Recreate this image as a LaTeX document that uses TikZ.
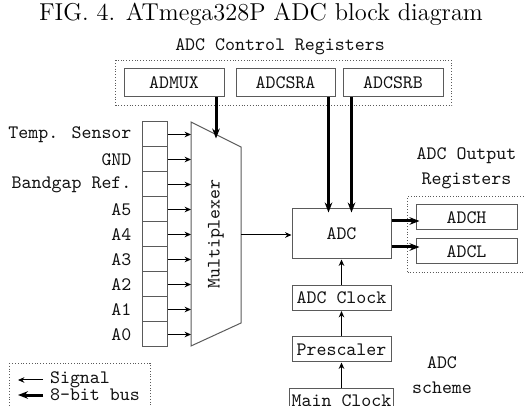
\documentclass[tikz,border=0pt]{standalone}
\usepackage{xcolor}
\usepackage{tikz}
\usetikzlibrary{arrows.meta, positioning, fit, calc}
\definecolor{boxline}{HTML}{5A5A5A}
\definecolor{textmain}{HTML}{111111}
\definecolor{arrowline}{HTML}{000000}

\begin{document}
\begin{tikzpicture}[
    x=0.5pt, y=-0.5pt,
    node distance=12.75pt,
    regbox/.style={rectangle, draw=boxline, line width=0.5pt, text=textmain, align=center, minimum height=14pt, minimum width=50pt, inner sep=1pt, font=\fontsize{9.5}{12.5}\selectfont\ttfamily},
    clkbox/.style={regbox, minimum height=12.5pt, minimum width=49.5pt},
    cell/.style={rectangle, draw=boxline, line width=0.5pt, minimum width=12.5pt, minimum height=12.5pt, inner sep=0pt},
    lbl/.style={text=textmain, align=center, font=\fontsize{9.5}{12.5}\selectfont\ttfamily},
    groupbox/.style={draw=boxline, densely dotted, inner sep=4pt},
    arrow/.style={->, >={Stealth[length=3.2pt, width=2.8pt]}, line width=0.5pt, draw=arrowline},
    busarrow/.style={->, >={Stealth[length=5pt, width=3.8pt]}, line width=1.5pt, draw=arrowline, shorten >=-2pt}
]
    \useasboundingbox (0,0) rectangle (525,406);

    % Nodes
    \node[font=\fontsize{12.2}{14}\selectfont, text=black] (title) at (261,14) {FIG. 4. ATmega328P ADC block diagram};
    \node[lbl] (ctrltitle) at (280,47) {ADC Control Registers};
    \node[regbox] (admux) at (174,83) {ADMUX};
    \node[regbox, minimum width=49.5pt] (adcsra) at (285.5,83) {ADCSRA};
    \node[regbox] (adcsrb) at (393,83) {ADCSRB};
    \node[groupbox, fit=(admux)(adcsrb)] (ctrlgroup) {};

    % Multiplexer
    \coordinate (mux-nw) at (191,122);
    \coordinate (mux-ne) at (241,147);
    \coordinate (mux-se) at (241,323);
    \coordinate (mux-sw) at (191,346);
    \draw[boxline, line width=0.5pt] (mux-nw) -- (mux-ne) -- (mux-se) -- (mux-sw) -- cycle;
    \node[lbl, rotate=90] (mux) at (216,234) {Multiplexer};
    \coordinate (mux-top) at ($(mux-nw)!0.5!(mux-ne)$);
    \coordinate (mux-out) at ($(mux-ne)!0.5!(mux-se)$);

    % Inputs
    \foreach \src [count=\i] in {Temp. Sensor, GND, Bandgap Ref., A5, A4, A3, A2, A1, A0} {
        \node[cell] (in\i) at (154.5, 109.5+25*\i) {};
        \node[lbl, left=1.5pt of in\i] (src\i) {\src};
        \draw[arrow] (in\i.east) -- (in\i.east -| mux-nw);
    }

    \node[regbox, minimum width=49.5pt, minimum height=25pt] (adc) at (341.5,234) {ADC};
    \node[regbox, minimum width=50.5pt, minimum height=12.5pt] (adch) at (466.5,217.5) {ADCH};
    \node[regbox, minimum width=50.5pt, minimum height=12.5pt, below=4pt of adch] (adcl) {ADCL};
    \node[groupbox, fit=(adch)(adcl)] (outgroup) {};
    \node[lbl, above=0pt of outgroup] (outtitle) {ADC Output\\Registers};

    \node[clkbox, below=of adc] (adcclock) {ADC Clock};
    \node[clkbox, below=of adcclock] (prescaler) {Prescaler};
    \node[clkbox, below=of prescaler] (mainclock) {Main Clock};
    \node[lbl] (scheme) at (442,375) {ADC\\scheme};

    % Legend
    \node[lbl, anchor=west] (sig) at (43,380) {Signal};
    \node[lbl, anchor=west] (bus) at (43,395) {8-bit bus};
    \draw[boxline, densely dotted] (9,363) rectangle (150,420);

    % Connections
    \coordinate (sra-out) at ([xshift=-3.5pt]adcsra.south east);
    \coordinate (srb-out) at ([xshift=4.5pt]adcsrb.south west);
    \coordinate (adc-h) at ([yshift=6.5pt]adc.east);
    \coordinate (adc-l) at ([yshift=-6.5pt]adc.east);
    \draw[busarrow] (admux.south -| mux-top) -- (mux-top);
    \draw[busarrow] (sra-out) -- (sra-out |- adc.north);
    \draw[busarrow] (srb-out) -- (srb-out |- adc.north);
    \draw[arrow] (mux-out) -- (mux-out -| adc.west);
    \draw[busarrow] (adc-h) -- (adc-h -| adch.west);
    \draw[busarrow] (adc-l) -- (adc-l -| adcl.west);
    \draw[arrow] (mainclock) -- (prescaler);
    \draw[arrow] (prescaler) -- (adcclock);
    \draw[arrow] (adcclock) -- (adc);
    \draw[arrow] (sig.west) -- ([xshift=-12.5pt]sig.west);
    \draw[busarrow, shorten >=0pt] (bus.west) -- ([xshift=-12.5pt]bus.west);
\end{tikzpicture}
\end{document}
